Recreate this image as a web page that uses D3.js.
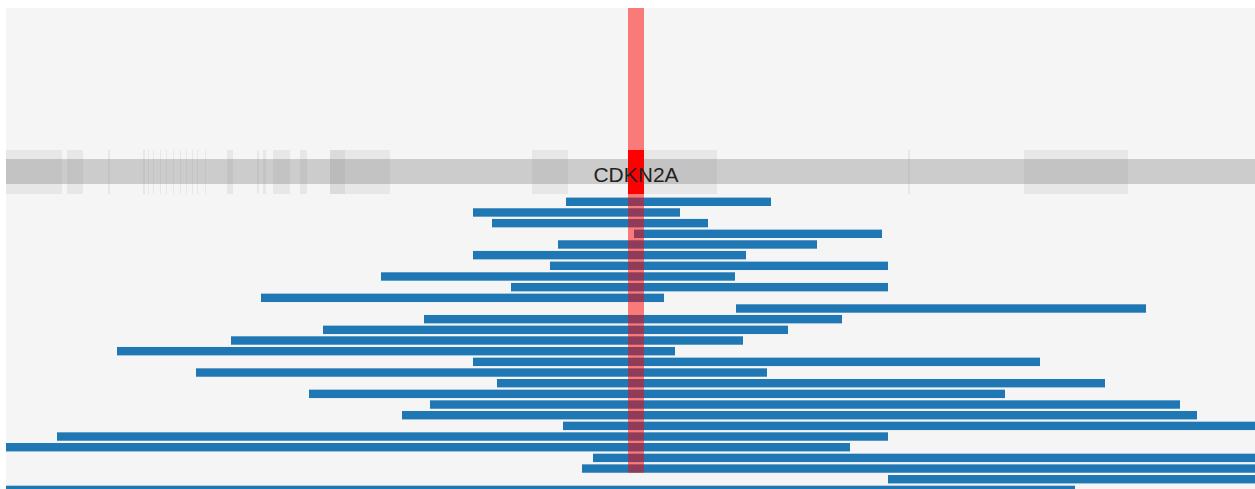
<!DOCTYPE html>
<html>
<head>
<meta charset="utf-8">
<script src="https://cdnjs.cloudflare.com/ajax/libs/d3/7.8.5/d3.min.js"></script>
<style>
  body { margin: 0; background: #ffffff; }
  svg  { display: block; }
</style>
</head>
<body>
<div id="viewer"></div>
<script>
// Visible window on chr9, in kb
var viewStart = 21345,
    viewEnd   = 22594;

// Gene of interest and the highlighted locus (kb)
var geneName  = "CDKN2A",
    hiliteStart = 21967,
    hiliteEnd   = 21983;

// Exons of the transcripts in the gene track (kb)
var exonStarts = [21345, 21406, 21447, 21482, 21487, 21492, 21499, 21505, 21512,
                  21519, 21525, 21531, 21536, 21544, 21566, 21596, 21602, 21612,
                  21639, 21669, 21669, 21871, 21969, 22247, 22363];
var exonEnds   = [21401, 21422, 21449, 21484, 21488, 21493, 21500, 21506, 21513,
                  21520, 21526, 21532, 21537, 21545, 21572, 21598, 21605, 21629,
                  21646, 21729, 21684, 21907, 22056, 22249, 22467];

// Deletion segments, one per row, top to bottom (kb)
var segStarts = [21905, 21812, 21831, 21973, 21897, 21812, 21889, 21720, 21850, 21600,
                 22075, 21763, 21662, 21570, 21456, 21812, 21535, 21836, 21648, 21769,
                 21741, 21902, 21396, 21300, 21932, 21921, 22227, 21300];
var segEnds   = [22110, 22019, 22047, 22221, 22156, 22085, 22227, 22074, 22227, 22003,
                 22485, 22181, 22127, 22082, 22014, 22379, 22106, 22444, 22344, 22519,
                 22536, 22700, 22227, 22189, 22700, 22700, 22700, 22414];

// Number of rows the highlight runs down through
var hiliteRows = 26;

var width  = 1255,
    height = 489,
    panel  = { left: 6, top: 8 };

var svg = d3.select("#viewer")
            .append("svg")
              .attr("width", width)
              .attr("height", height);

// Clip everything to the panel
svg.append("defs")
   .append("clipPath")
     .attr("id", "panel-clip")
   .append("rect")
     .attr("x", panel.left)
     .attr("y", panel.top)
     .attr("width", width - panel.left)
     .attr("height", height - panel.top);

// Panel background
svg.append("rect")
     .attr("x", panel.left)
     .attr("y", panel.top)
     .attr("width", width - panel.left)
     .attr("height", height - panel.top)
     .style("fill", "#f5f5f5");

var g = svg.append("g")
           .attr("clip-path", "url(#panel-clip)");

// Genomic position -> pixel
var x = d3.scaleLinear()
          .domain([viewStart, viewEnd])
          .range([panel.left, width]);

// Row index -> top of the bar
var rowPitch = 10.67,
    barH     = 8.4;
var y = d3.scaleLinear()
          .domain([0, segStarts.length])
          .range([197.6, 197.6 + segStarts.length * rowPitch]);

/*** Gene track ***/
var track = { top: 159, bottom: 184, exonTop: 150, exonBottom: 194 };

g.append("rect")
   .attr("x", x(viewStart))
   .attr("y", track.top)
   .attr("width", x(viewEnd) - x(viewStart))
   .attr("height", track.bottom - track.top)
   .style("fill", "#cccccc");

var exons = exonStarts.map(function(s, i) { return { start: s, end: exonEnds[i] }; });

g.append("g")
   .attr("class", "exons")
 .selectAll("rect")
 .data(exons)
 .enter()
 .append("rect")
   .attr("x", function(d) { return x(d.start); })
   .attr("y", track.exonTop)
   .attr("width", function(d) { return Math.max(1, x(d.end) - x(d.start)); })
   .attr("height", track.exonBottom - track.exonTop)
   .style("fill", "#888888")
   .style("fill-opacity", 0.13);

/*** Segments ***/
var segs = segStarts.map(function(s, i) { return { row: i, start: s, end: segEnds[i] }; });

g.append("g")
   .attr("class", "segments")
 .selectAll("rect")
 .data(segs)
 .enter()
 .append("rect")
   .attr("x", function(d) { return x(d.start); })
   .attr("y", function(d) { return y(d.row); })
   .attr("width", function(d) { return x(d.end) - x(d.start); })
   .attr("height", barH)
   .style("fill", "#1f77b4");

/*** Highlight ***/
// Translucent column through the panel
g.append("rect")
   .attr("x", x(hiliteStart))
   .attr("y", panel.top)
   .attr("width", x(hiliteEnd) - x(hiliteStart))
   .attr("height", y(hiliteRows - 1) + barH - panel.top)
   .style("fill", "red")
   .style("fill-opacity", 0.5);

// Solid block inside the gene track
g.append("rect")
   .attr("x", x(hiliteStart))
   .attr("y", track.exonTop)
   .attr("width", x(hiliteEnd) - x(hiliteStart))
   .attr("height", track.exonBottom - track.exonTop)
   .style("fill", "red");

// Gene label
g.append("text")
   .attr("x", x((hiliteStart + hiliteEnd) / 2))
   .attr("y", 181.5)
   .attr("text-anchor", "middle")
   .style("font-family", "'Liberation Sans', Arial, sans-serif")
   .style("font-size", "21px")
   .style("fill", "#222222")
   .text(geneName);
</script>
</body>
</html>
